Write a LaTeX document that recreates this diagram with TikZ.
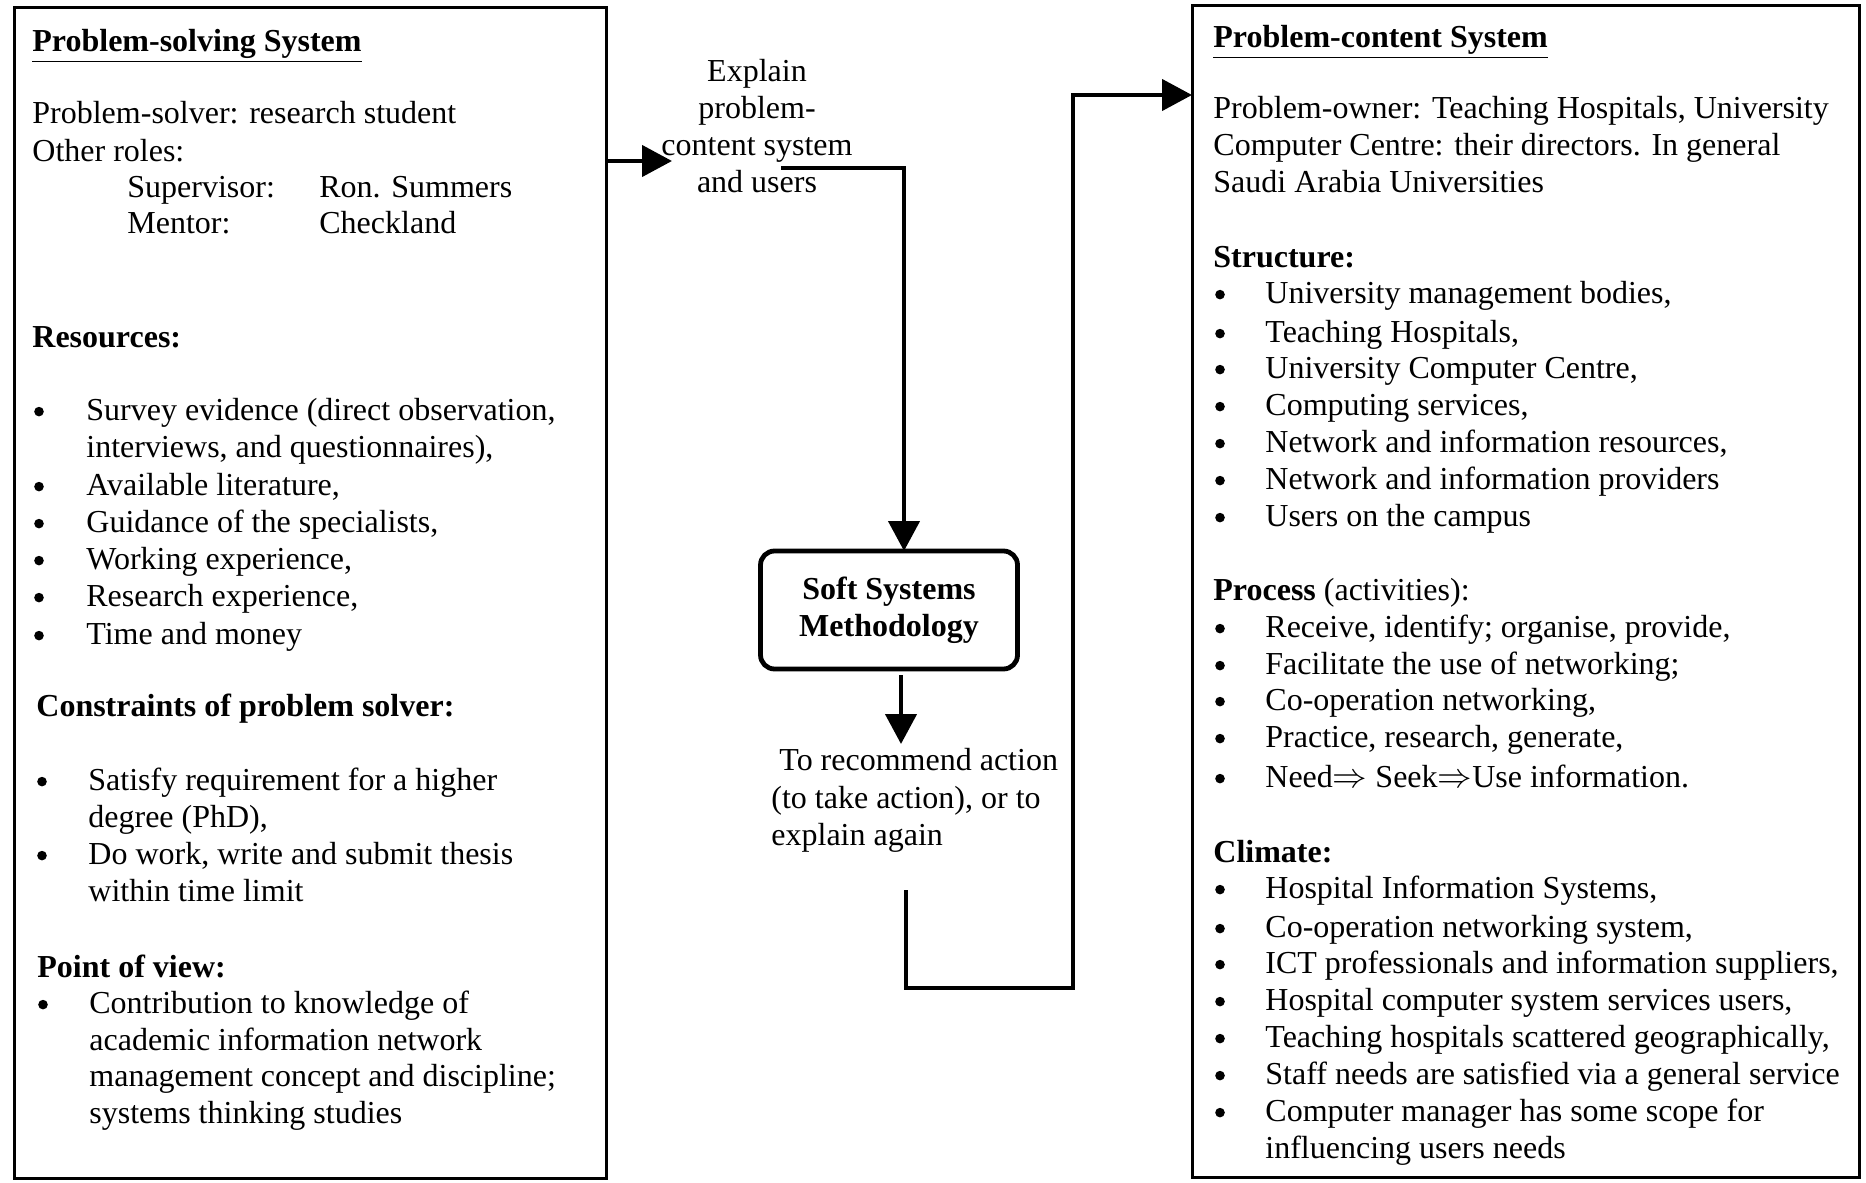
\documentclass[tikz,border=0pt]{standalone}
\usepackage{fontspec}
\setmainfont{Liberation Serif}
\usetikzlibrary{arrows.meta}
\begin{document}
\begin{tikzpicture}[x=0.5pt,y=-0.5pt,
  txt/.style={anchor=base west, inner sep=0pt, font=\fontsize{16}{18.5}\selectfont},
  hd/.style={txt, font=\fontsize{16}{18.5}\selectfont\bfseries},
  ctr/.style={anchor=base, inner sep=0pt, font=\fontsize{16}{18.5}\selectfont},
  dot/.style={circle, fill, inner sep=0pt, minimum size=4.8pt, yshift=4.2pt},
  frame/.style={draw, line width=1.5pt},
  flow/.style={line width=2.2pt},
  tip/.style={-{Triangle[length=15pt,width=15.5pt]}}
]
\useasboundingbox (0,0) rectangle (1866,1182);

% ---------- the two system boxes ----------
\draw[frame] (14,8) rectangle (606,1178);
\coordinate (psE) at (606,161);
\draw[frame] (1192,6) rectangle (1859,1177);
\coordinate (pcW) at (1192,95);

% ---------- problem-solving system ----------
\node[hd] (lt) at (32,52) {\underline{Problem-solving System}};
\node[txt] (l1) at (32,124) {Problem-solver: research student};
\node[txt] (l2) at (32,162) {Other roles:};
\node[txt] (l3) at (127,198) {Supervisor:};
\node[txt] (l3b) at (319,198) {Ron. Summers};
\node[txt] (l4) at (127,234) {Mentor:};
\node[txt] (l4b) at (319,234) {Checkland};

\node[hd] (lres) at (32,347) {Resources:};
\node[dot] (lb1) at (39,420) {};
\node[txt] (lr1) at (86,420) {Survey evidence (direct observation,};
\node[txt] (lr1b) at (86,457) {interviews, and questionnaires),};
\node[dot] (lb2) at (39,495) {};
\node[txt] (lr2) at (86,495) {Available literature,};
\node[dot] (lb3) at (39,532) {};
\node[txt] (lr3) at (86,532) {Guidance of the specialists,};
\node[dot] (lb4) at (39,569) {};
\node[txt] (lr4) at (86,569) {Working experience,};
\node[dot] (lb5) at (39,606) {};
\node[txt] (lr5) at (86,606) {Research experience,};
\node[dot] (lb6) at (39,644) {};
\node[txt] (lr6) at (86,644) {Time and money};

\node[hd] (lcon) at (36,716) {Constraints of problem solver:};
\node[dot] (lc1b) at (42,790) {};
\node[txt] (lc1) at (88,790) {Satisfy requirement for a higher};
\node[txt] (lc1c) at (88,827) {degree (PhD),};
\node[dot] (lc2b) at (42,864) {};
\node[txt] (lc2) at (88,864) {Do work, write and submit thesis};
\node[txt] (lc2c) at (88,901) {within time limit};

\node[hd] (lpov) at (37,977) {Point of view:};
\node[dot] (lp1b) at (43,1013) {};
\node[txt] (lp1) at (89,1013) {Contribution to knowledge of};
\node[txt] (lp2) at (89,1050) {academic information network};
\node[txt] (lp3) at (89,1086) {management concept and discipline;};
\node[txt] (lp4) at (89,1123) {systems thinking studies};

% ---------- problem-content system ----------
\node[hd] (rt) at (1213,48) {\underline{Problem-content System}};
\node[txt] (r1) at (1213,119) {Problem-owner: Teaching Hospitals, University};
\node[txt] (r2) at (1213,156) {Computer Centre: their directors. In general};
\node[txt] (r3) at (1213,193) {Saudi Arabia Universities};

\node[hd] (rstr) at (1213,267) {Structure:};
\node[dot] (rs1b) at (1220,303) {};
\node[txt] (rs1) at (1265,303) {University management bodies,};
\node[dot] (rs2b) at (1220,342) {};
\node[txt] (rs2) at (1265,342) {Teaching Hospitals,};
\node[dot] (rs3b) at (1220,378) {};
\node[txt] (rs3) at (1265,378) {University Computer Centre,};
\node[dot] (rs4b) at (1220,415) {};
\node[txt] (rs4) at (1265,415) {Computing services,};
\node[dot] (rs5b) at (1220,452) {};
\node[txt] (rs5) at (1265,452) {Network and information resources,};
\node[dot] (rs6b) at (1220,489) {};
\node[txt] (rs6) at (1265,489) {Network and information providers};
\node[dot] (rs7b) at (1220,526) {};
\node[txt] (rs7) at (1265,526) {Users on the campus};

\node[txt] (rpro) at (1213,600) {\textbf{Process} (activities):};
\node[dot] (rp1b) at (1220,637) {};
\node[txt] (rp1) at (1265,637) {Receive, identify; organise, provide,};
\node[dot] (rp2b) at (1220,674) {};
\node[txt] (rp2) at (1265,674) {Facilitate the use of networking;};
\node[dot] (rp3b) at (1220,710) {};
\node[txt] (rp3) at (1265,710) {Co-operation networking,};
\node[dot] (rp4b) at (1220,747) {};
\node[txt] (rp4) at (1265,747) {Practice, research, generate,};
\node[dot] (rp5b) at (1220,787) {};
\node[txt] (rp5) at (1265,787) {Need$\Rightarrow$ Seek$\Rightarrow$Use information.};

\node[hd] (rcl) at (1213,862) {Climate:};
\node[dot] (rc1b) at (1220,898) {};
\node[txt] (rc1) at (1265,898) {Hospital Information Systems,};
\node[dot] (rc2b) at (1220,937) {};
\node[txt] (rc2) at (1265,937) {Co-operation networking system,};
\node[dot] (rc3b) at (1220,973) {};
\node[txt] (rc3) at (1265,973) {ICT professionals and information suppliers,};
\node[dot] (rc4b) at (1220,1010) {};
\node[txt] (rc4) at (1265,1010) {Hospital computer system services users,};
\node[dot] (rc5b) at (1220,1047) {};
\node[txt] (rc5) at (1265,1047) {Teaching hospitals scattered geographically,};
\node[dot] (rc6b) at (1220,1084) {};
\node[txt] (rc6) at (1265,1084) {Staff needs are satisfied via a general service};
\node[dot] (rc7b) at (1220,1121) {};
\node[txt] (rc7) at (1265,1121) {Computer manager has some scope for};
\node[txt] (rc7c) at (1265,1158) {influencing users needs};

% ---------- middle: methodology and flow ----------
\node[ctr] (e1) at (757,82) {Explain};
\node[ctr] (e2) at (757,119) {problem-};
\node[ctr] (e3) at (757,156) {content system};
\node[ctr] (e4) at (757,193) {and users};

\node[draw, line width=2.4pt, rounded corners=7pt, minimum width=128.5pt,
      minimum height=59pt, align=center, inner sep=0pt,
      font=\fontsize{16}{18.5}\selectfont\bfseries] (ssm) at (889,610)
      {Soft Systems\\Methodology};

\node[txt] (o1) at (779,770) {To recommend action};
\node[txt] (o2) at (771,808) {(to take action), or to};
\node[txt] (o3) at (771,845) {explain again};

\coordinate (a1) at (672,161);
\draw[flow,tip] (psE) -- (a1);

\coordinate (a2) at (781,168);
\coordinate (a2t) at (904,551);
\draw[flow,tip] (a2) -| (a2t);

\coordinate (a3) at (901,675);
\coordinate (a3t) at (901,744);
\draw[flow,tip] (a3) -- (a3t);

\coordinate (a4) at (906,890);
\coordinate (a4c) at (1073,988);
\draw[flow,tip] (a4) |- (a4c) |- (pcW);
\end{tikzpicture}
\end{document}
